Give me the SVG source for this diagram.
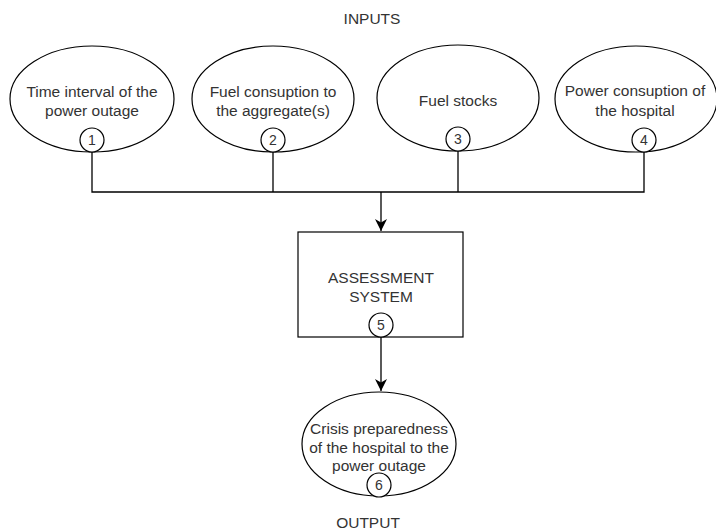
<svg xmlns="http://www.w3.org/2000/svg" width="716" height="530" viewBox="0 0 716 530">
<style>
.shape{fill:#fff;stroke:#000;stroke-width:1.2}
.t{font-family:"Liberation Sans",Arial,sans-serif;font-size:15.5px;fill:#333;text-anchor:middle;dominant-baseline:central}
.n{font-family:"Liberation Sans",Arial,sans-serif;font-size:14px;fill:#333;text-anchor:middle;dominant-baseline:central}
.c{fill:none;stroke:#000;stroke-width:1.3}
</style>
<defs>
<marker id="ah" viewBox="0 0 12 12" refX="12" refY="6" markerWidth="12" markerHeight="12" markerUnits="userSpaceOnUse" orient="auto">
<path d="M0,0 L12,6 L0,12 L3.5,6 Z" fill="#000"/>
</marker>
</defs>
<rect width="716" height="530" fill="#fff"/>
<text class="t" x="372" y="18">INPUTS</text>
<text class="t" x="368" y="522">OUTPUT</text>
<g id="connectors">
<path class="c" d="M92,152 V192 H644 V152"/>
<path class="c" d="M273,152 V192"/>
<path class="c" d="M458,151 V192"/>
<path class="c" d="M381,192 V231" marker-end="url(#ah)"/>
<path class="c" d="M381,337 V391" marker-end="url(#ah)"/>
</g>
<g id="node1">
<ellipse class="shape" cx="92" cy="99" rx="82" ry="53"/>
<text class="t" x="92" y="91">Time interval of the</text>
<text class="t" x="92" y="110">power outage</text>
<circle class="shape" cx="92" cy="140" r="12"/>
<text class="n" x="92" y="140">1</text>
</g>
<g id="node2">
<ellipse class="shape" cx="273" cy="99" rx="81" ry="53"/>
<text class="t" x="273" y="91">Fuel consuption to</text>
<text class="t" x="273" y="110">the aggregate(s)</text>
<circle class="shape" cx="273" cy="140" r="12"/>
<text class="n" x="273" y="140">2</text>
</g>
<g id="node3">
<ellipse class="shape" cx="458" cy="98" rx="81" ry="53"/>
<text class="t" x="458" y="100">Fuel stocks</text>
<circle class="shape" cx="458" cy="139" r="12"/>
<text class="n" x="458" y="139">3</text>
</g>
<g id="node4">
<ellipse class="shape" cx="636" cy="99" rx="81" ry="53"/>
<text class="t" x="635" y="90">Power consuption of</text>
<text class="t" x="635" y="110">the hospital</text>
<circle class="shape" cx="644" cy="140" r="12"/>
<text class="n" x="644" y="140">4</text>
</g>
<g id="node5">
<rect class="shape" x="298" y="232" width="165" height="105"/>
<text class="t" x="381" y="277">ASSESSMENT</text>
<text class="t" x="381" y="296">SYSTEM</text>
<circle class="shape" cx="381" cy="325" r="12"/>
<text class="n" x="381" y="325">5</text>
</g>
<g id="node6">
<ellipse class="shape" cx="379" cy="444" rx="77" ry="52"/>
<text class="t" x="379" y="428">Crisis preparedness</text>
<text class="t" x="379" y="447">of the hospital to the</text>
<text class="t" x="379" y="465">power outage</text>
<circle class="shape" cx="379" cy="485" r="12"/>
<text class="n" x="379" y="485">6</text>
</g>
</svg>
